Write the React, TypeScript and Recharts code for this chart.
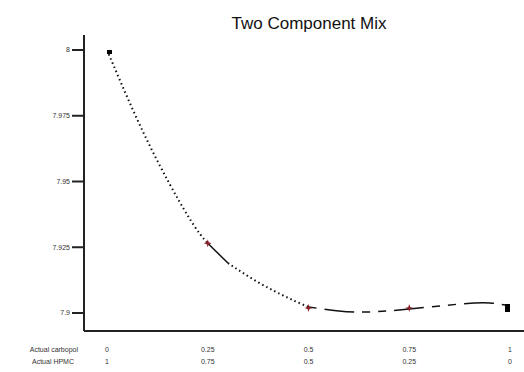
import React from 'react';
import { ComposedChart, Line, Scatter, XAxis, YAxis } from 'recharts';

// design points
const carbopol = [0, 0.25, 0.5, 0.75, 1];
const hpmc = [1, 0.75, 0.5, 0.25, 0];
const response = [8.0, 7.9265, 7.9019, 7.9019, 7.9019];
const pointKind = ['vertex', 'mix', 'mix', 'mix', 'vertex'];

// fitted curve
const curveX = [0, 0.1, 0.2, 0.25, 0.3, 0.375, 0.45, 0.5, 0.575, 0.65, 0.75, 0.875, 0.95, 1];
const curveY = [8.0, 7.9655, 7.9371, 7.9265, 7.919, 7.9117, 7.9057, 7.9023, 7.9008, 7.9004, 7.9015, 7.9034, 7.9038, 7.9027];

const yTicks = [7.9, 7.925, 7.95, 7.975, 8];
const yTickLabels = ['7.9', '7.925', '7.95', '7.975', '8'];
const xTicks = [0, 0.25, 0.5, 0.75, 1];

const points = carbopol.map((x, i) => ({ x, y: response[i], kind: pointKind[i], h: hpmc[i] }));
const curve = curveX.map((x, i) => ({ x, y: curveY[i] }));
const seg = (lo: number, hi: number) => curve.filter((p) => p.x >= lo && p.x <= hi);

const font = '"Liberation Sans", Arial, sans-serif';

const PointShape = (props: any) => {
  const { cx, cy, payload } = props;
  if (payload.kind === 'vertex') {
    return <rect x={cx - 5} y={cy - 4} width={10} height={8} fill="#000" />;
  }
  return (
    <g fill="#8b1f2a">
      <polygon
        points={`${cx - 4},${cy} ${cx - 1},${cy - 1} ${cx},${cy - 4} ${cx + 1},${cy - 1} ${cx + 4},${cy} ${cx + 1},${cy + 1} ${cx},${cy + 4} ${cx - 1},${cy + 1}`}
      />
    </g>
  );
};

const XTick = (props: any) => {
  const { x, y, payload } = props;
  const v = payload.value as number;
  const idx = carbopol.indexOf(v);
  return (
    <g fontFamily={font} fontSize={7} fill="#333">
      <text x={x} y={y + 13} textAnchor="middle">{String(v)}</text>
      <text x={x} y={y + 25} textAnchor="middle">{String(hpmc[idx] ?? 1 - v)}</text>
      {v === 0 && (
        <>
          <text x={78} y={y + 13} textAnchor="end">Actual carbopol</text>
          <text x={74} y={y + 25} textAnchor="end">Actual HPMC</text>
        </>
      )}
    </g>
  );
};

export default function App() {
  return (
    <div style={{ position: 'absolute', left: 0, top: 0, width: 524, height: 372, background: '#fff' }}>
      <ComposedChart width={524} height={372} margin={{ top: 35, right: 0, bottom: 0, left: 0 }}>
        <text x={309} y={29} textAnchor="middle" fontFamily={font} fontSize={17} fill="#111">
          Two Component Mix
        </text>
        <XAxis
          dataKey="x"
          type="number"
          domain={[0, 1]}
          ticks={xTicks}
          tick={<XTick />}
          tickLine={false}
          height={41}
          padding={{ left: 23, right: 14 }}
          axisLine={{ stroke: '#222', strokeWidth: 2 }}
          allowDataOverflow
        />
        <YAxis
          type="number"
          domain={[7.9, 8]}
          ticks={yTicks}
          tickFormatter={(v: number) => yTickLabels[yTicks.indexOf(v)] ?? String(v)}
          width={84}
          tickSize={12}
          padding={{ top: 15, bottom: 18 }}
          axisLine={{ stroke: '#222', strokeWidth: 2 }}
          tickLine={{ stroke: '#222', strokeWidth: 2 }}
          tick={{ fontFamily: font, fontSize: 7, fill: '#333' }}
          allowDataOverflow
        />
        <Line data={seg(0, 0.25)} dataKey="y" type="natural" stroke="#111" strokeWidth={2} strokeDasharray="1.5 3" dot={false} isAnimationActive={false} />
        <Line data={seg(0.25, 0.3)} dataKey="y" type="natural" stroke="#111" strokeWidth={1.5} dot={false} isAnimationActive={false} />
        <Line data={seg(0.3, 0.5)} dataKey="y" type="natural" stroke="#111" strokeWidth={2} strokeDasharray="1.5 3" dot={false} isAnimationActive={false} />
        <Line data={seg(0.5, 1)} dataKey="y" type="natural" stroke="#111" strokeWidth={1.5} strokeDasharray="8 8 30 8 8 8" dot={false} isAnimationActive={false} />
        <Scatter data={points} dataKey="y" shape={<PointShape />} isAnimationActive={false} />
      </ComposedChart>
    </div>
  );
}
